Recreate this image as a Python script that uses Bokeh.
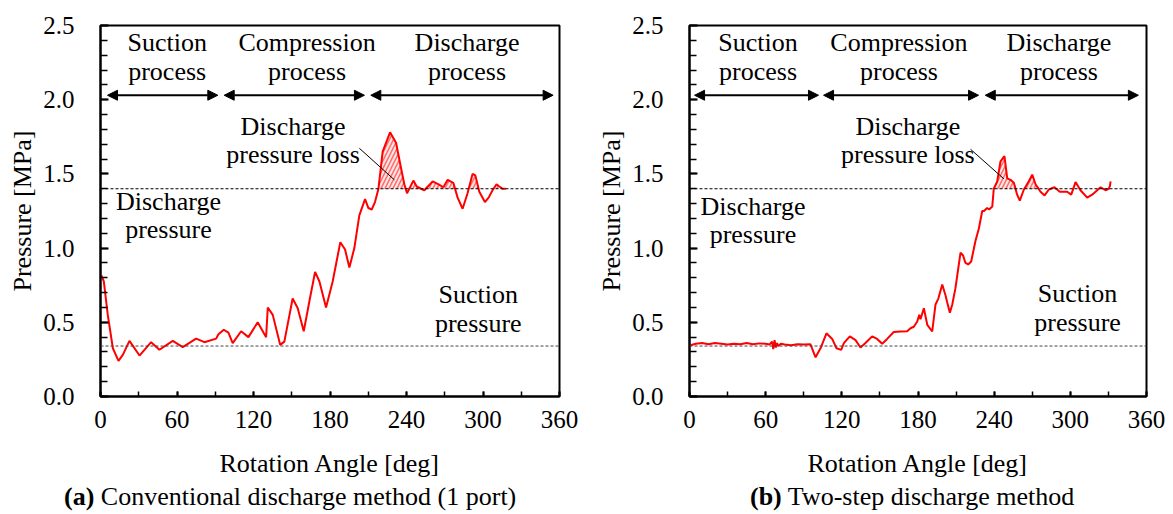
import numpy as np
from bokeh.plotting import figure
from bokeh.layouts import row, column
from bokeh.models import Range1d, SingleIntervalTicker, PrintfTickFormatter, Span, Arrow, NormalHead, Label, Div
from bokeh.embed import file_html
from bokeh.resources import INLINE

FONT = "Liberation Serif"

# ---------------- data ----------------
# (a) conventional discharge method (1 port)
angle_a = [0.5, 2.6, 5.7, 9.7, 14.1, 17.5, 22.7, 30.6, 39.7, 46.2, 56.7, 64.5, 75, 81.5, 90.7, 92.5,
           96.7, 100.3, 103.7, 110.3, 116, 123.3, 129.9, 131.2, 135.1, 140.9, 144.2, 150.7, 154.7,
           159.4, 163.8, 168.3, 171.7, 176.9, 182.1, 188.1, 191.8, 195.2, 199.1, 203, 207.5, 210.1,
           212.7, 215.3, 218, 221.3, 227.1, 231.8, 235.7, 238.3, 240.4, 242.2, 245.4, 248, 251.4,
           254, 260.5, 265.2, 268.9, 272.3, 276.7, 280.1, 284, 287.9, 291.8, 294, 297.1, 301.5,
           304.4, 307.5, 310.6, 312.8, 315.4, 318]
press_a = [0.82, 0.775, 0.55, 0.325, 0.24, 0.28, 0.375, 0.276, 0.366, 0.315, 0.375, 0.333, 0.39, 0.366,
           0.39, 0.42, 0.45, 0.43, 0.36, 0.44, 0.40, 0.50, 0.40, 0.60, 0.55, 0.348, 0.37, 0.66, 0.595,
           0.44, 0.64, 0.84, 0.775, 0.60, 0.775, 1.04, 0.99, 0.87, 1.00, 1.22, 1.33, 1.27, 1.26, 1.31,
           1.40, 1.65, 1.78, 1.71, 1.54, 1.43, 1.37, 1.40, 1.455, 1.415, 1.40, 1.39, 1.45, 1.43, 1.41,
           1.46, 1.44, 1.34, 1.265, 1.37, 1.50, 1.49, 1.38, 1.31, 1.34, 1.39, 1.43, 1.415, 1.40, 1.40]

# (b) two-step discharge method
angle_b = [0, 5, 10, 15, 20, 25, 30, 35, 40, 45, 50, 55, 60, 63, 65, 66, 67, 68, 69, 70, 72, 75, 80,
           85, 90, 95.3, 99.3, 103.2, 107.9, 112.4, 115.8, 119.5, 121.6, 126.3, 130.8, 134.7, 138.6,
           143.9, 147.8, 151.8, 155.7, 160.9, 166.2, 171.5, 174.1, 176.7, 179.4, 181, 182, 184.6,
           187.3, 191.2, 193.8, 196, 199.1, 201.7, 203, 205.1, 207, 209.5, 213.5, 215.5, 217.4,
           219.5, 221.9, 225.3, 227.9, 230.6, 232, 234.5, 236, 238.5, 239.7, 242.4, 245, 248.1,
           250.3, 252.9, 255.5, 258.1, 260.2, 263.4, 267.3, 270, 272.6, 276.5, 279.7, 283.1, 287.5,
           291.7, 297.5, 300.7, 304.1, 308, 313.3, 317.2, 323.8, 327.7, 330.3, 331.2, 331.7]
press_b = [0.344, 0.355, 0.36, 0.352, 0.36, 0.356, 0.35, 0.355, 0.352, 0.36, 0.352, 0.358, 0.355,
           0.35, 0.37, 0.32, 0.38, 0.33, 0.36, 0.34, 0.355, 0.35, 0.345, 0.352, 0.35, 0.352, 0.264,
           0.325, 0.426, 0.388, 0.325, 0.314, 0.36, 0.405, 0.38, 0.33, 0.36, 0.405, 0.388, 0.355,
           0.388, 0.435, 0.438, 0.44, 0.46, 0.47, 0.505, 0.55, 0.52, 0.595, 0.483, 0.438, 0.62, 0.66,
           0.755, 0.68, 0.635, 0.565, 0.62, 0.73, 0.97, 0.95, 0.90, 0.89, 0.91, 1.05, 1.13, 1.25,
           1.25, 1.27, 1.26, 1.28, 1.40, 1.45, 1.585, 1.62, 1.47, 1.46, 1.44, 1.36, 1.32, 1.395,
           1.45, 1.495, 1.43, 1.38, 1.355, 1.395, 1.41, 1.38, 1.38, 1.36, 1.445, 1.39, 1.34, 1.36,
           1.41, 1.39, 1.40, 1.42, 1.45]

discharge_pressure = 1.40
suction_pressure = 0.34

x_ticks_interval = 60
y_ticks_interval = 0.5

caption_a = ("(a)", "Conventional discharge method (1 port)")
caption_b = ("(b)", "Two-step discharge method")

# ---------------- helpers ----------------
def text_at(p, txt, x, y, size="26px"):
    p.add_layout(Label(x=x, y=y, text=txt, text_font=FONT, text_font_size=size,
                       text_align="center", text_baseline="middle", text_color="black"))


def make_panel(angle, press, loss_range, annotations, leader, arrows,
               border_left, border_right, frame_width):
    p = figure(frame_width=frame_width, frame_height=371, output_backend="svg", toolbar_location=None,
               x_range=Range1d(0, 360), y_range=Range1d(0, 2.5),
               min_border_left=border_left, min_border_right=border_right,
               min_border_top=25, min_border_bottom=84)
    p.outline_line_color = "black"
    p.outline_line_width = 2
    p.xgrid.visible = False
    p.ygrid.visible = False
    p.background_fill_color = "white"
    p.border_fill_color = "white"

    for ax in (p.xaxis[0], p.yaxis[0]):
        ax.axis_line_width = 2
        ax.axis_line_color = "black"
        ax.major_tick_line_width = 2
        ax.minor_tick_line_width = 1.5
        ax.major_tick_out = 0
        ax.minor_tick_out = 0
        ax.major_label_text_font = FONT
        ax.major_label_text_font_size = "25px"
        ax.major_label_text_color = "black"
        ax.axis_label_text_font = FONT
        ax.axis_label_text_font_size = "26px"
        ax.axis_label_text_font_style = "normal"
        ax.axis_label_text_color = "black"

    p.xaxis.ticker = SingleIntervalTicker(interval=x_ticks_interval, num_minor_ticks=2)
    p.xaxis.major_tick_in = 5
    p.xaxis.minor_tick_in = 5
    p.xaxis.major_label_standoff = 14
    p.xaxis.axis_label = "Rotation Angle [deg]"
    p.xaxis.axis_label_standoff = 18

    p.yaxis.ticker = SingleIntervalTicker(interval=y_ticks_interval, num_minor_ticks=5)
    p.yaxis.formatter = PrintfTickFormatter(format="%.1f")
    p.yaxis.major_tick_in = 8
    p.yaxis.minor_tick_in = 7
    p.yaxis.major_label_standoff = 26
    p.yaxis.axis_label = "Pressure [MPa]"
    p.yaxis.axis_label_standoff = 3

    # reference lines
    p.add_layout(Span(location=discharge_pressure, dimension="width", line_color="black",
                      line_dash="3 2", line_width=1))
    p.add_layout(Span(location=suction_pressure, dimension="width", line_color="#444444",
                      line_dash="3 2", line_width=1))

    # hatched loss area
    a = np.array(angle, dtype=float)
    pr = np.array(press, dtype=float)
    m = (a >= loss_range[0]) & (a <= loss_range[1])
    p.varea(x=a[m], y1=np.full(m.sum(), discharge_pressure), y2=np.maximum(pr[m], discharge_pressure),
            fill_color="#ffe4e4", fill_alpha=1.0, hatch_pattern="/", hatch_color="#ff6a6a",
            hatch_scale=8, hatch_weight=1.5)

    # curve
    p.line(angle, press, line_color="#ff0000", line_width=2)

    # leader line
    p.segment(x0=[leader[0]], y0=[leader[1]], x1=[leader[2]], y1=[leader[3]],
              line_color="black", line_width=1)

    # arrows
    for (xs, xe, yy) in arrows:
        p.add_layout(Arrow(x_start=xs, y_start=yy, x_end=xe, y_end=yy, line_width=2, line_color="black",
                           start=NormalHead(size=10, fill_color="black", line_color="black"),
                           end=NormalHead(size=10, fill_color="black", line_color="black")))

    for (txt, x, y) in annotations:
        text_at(p, txt, x, y)
    return p


def caption_div(tag, text, width, pad_left):
    html = (f'<span style="font-family:\'{FONT}\';font-size:26px;color:black;white-space:nowrap;">'
            f'<b>{tag}</b> {text}</span>')
    return Div(text=html, width=width, height=26, margin=(0, 0, 0, 0),
               styles={"padding-left": f"{pad_left}px", "padding-top": "7px", "line-height": "20px"})


ann_a = [("Suction", 52.3, 2.385), ("process", 52.3, 2.19),
         ("Compression", 162.0, 2.385), ("process", 162.0, 2.19),
         ("Discharge", 287.5, 2.385), ("process", 287.5, 2.19),
         ("Discharge", 151.0, 1.82), ("pressure loss", 151.0, 1.63),
         ("Discharge", 53.3, 1.314), ("pressure", 53.3, 1.125),
         ("Suction", 296.3, 0.69), ("pressure", 296.3, 0.494)]
arrows_a = [(5.5, 92.0, 2.03), (97.0, 207.0, 2.03), (212.0, 355.0, 2.03)]
leader_a = (203.0, 1.673, 230.5, 1.46)

ann_b = [("Suction", 54.0, 2.385), ("process", 54.0, 2.19),
         ("Compression", 165.0, 2.385), ("process", 165.0, 2.19),
         ("Discharge", 291.0, 2.385), ("process", 291.0, 2.19),
         ("Discharge", 172.0, 1.82), ("pressure loss", 172.0, 1.63),
         ("Discharge", 50.0, 1.28), ("pressure", 50.0, 1.094),
         ("Suction", 305.7, 0.696), ("pressure", 305.7, 0.50)]
arrows_b = [(4.0, 101.6, 2.03), (105.6, 227.7, 2.03), (233.0, 353.6, 2.03)]
leader_b = (221.4, 1.666, 247.6, 1.467)

p1 = make_panel(angle_a, press_a, (217, 320), ann_a, leader_a, arrows_a, 100, 30, 459)
p2 = make_panel(angle_b, press_b, (239, 280), ann_b, leader_b, arrows_b, 100, 21, 457)

d1 = caption_div(caption_a[0], caption_a[1], 585, 64)
d2 = caption_div(caption_b[0], caption_b[1], 578, 165)

layout = column(row(p1, p2), row(d1, d2))
open("out.html", "w").write(file_html(layout, INLINE))
